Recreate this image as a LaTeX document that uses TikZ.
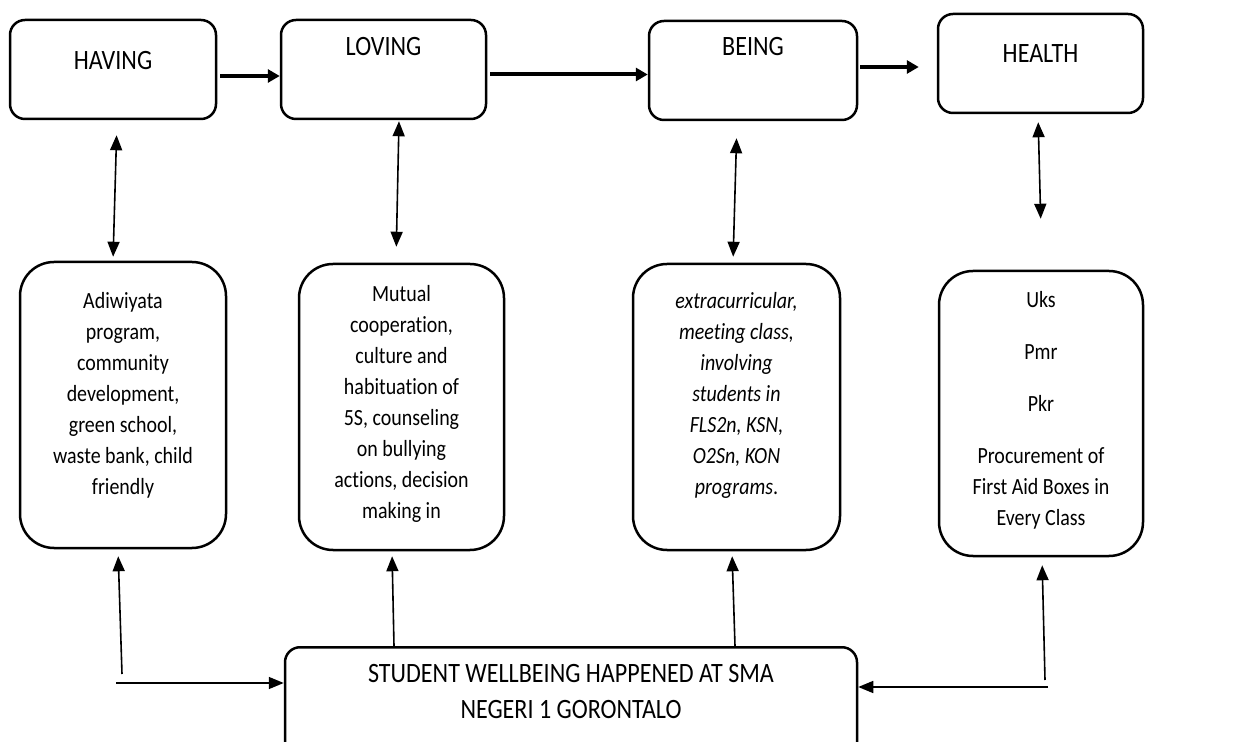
\documentclass[tikz,border=0pt]{standalone}
\usepackage{fontspec}
\setmainfont{Carlito}[FakeStretch=0.86, Ligatures=NoCommon, Contextuals=NoAlternate]
\usepackage{tikz}
\usetikzlibrary{arrows.meta,calc}

\begin{document}
\begin{tikzpicture}[x=0.5pt, y=-0.5pt,
    topbox/.style={draw, line width=1.25pt, rounded corners=7.5pt, minimum height=49.5pt, font=\fontsize{14}{18}\selectfont},
    itembox/.style={draw, line width=1.25pt, rounded corners=17pt, minimum height=143pt, align=center, font=\fontsize{11.6}{15.5}\selectfont},
    flow/.style={line width=2pt, -{Triangle[length=6pt,width=6.5pt]}},
    link/.style={line width=0.8pt, -{Triangle[length=7.5pt,width=6pt]}},
    both/.style={line width=0.8pt, {Triangle[length=7.5pt,width=6pt]}-{Triangle[length=7.5pt,width=6pt]}}]
\useasboundingbox (0,0) rectangle (1236,742);
\clip (0,0) rectangle (1236,742);

% Top row
\node[topbox, minimum width=103pt, text depth=9.5pt] (having) at (113,69.5) {HAVING};
\node[topbox, minimum width=102.5pt, text depth=23.5pt] (loving) at (383.5,69.5) {LOVING};
\node[topbox, minimum width=104pt, text depth=24.5pt] (being) at (753,70.5) {BEING};
\node[topbox, minimum width=102.5pt, text depth=9.5pt] (health) at (1040.5,63.5) {HEALTH};

\draw[flow, shorten <=1.5pt] ([yshift=-3.25pt]having.east) -- ([yshift=-3.25pt]loving.west);
\draw[flow, shorten <=1.5pt] ([yshift=-2.5pt]loving.east) -- ([yshift=-2pt]being.west);
\draw[flow, shorten <=1pt, shorten >=9pt] ([yshift=1.75pt]being.east) -- ([yshift=-1.75pt]health.west);

% Programs
\node[itembox, minimum width=103pt, text depth=12pt] (adi) at (123,405)
    {Adiwiyata\\program,\\community\\development,\\green school,\\waste bank, child\\friendly};
\node[itembox, minimum width=102.5pt, text depth=5.5pt] (mutual) at (401.5,407)
    {Mutual\\cooperation,\\culture and\\habituation of\\5S, counseling\\on bullying\\actions, decision\\making in};
\node[itembox, minimum width=103.5pt, text depth=13.5pt, font=\fontsize{11.6}{15.5}\selectfont\itshape] (extra) at (736.5,407)
    {extracurricular,\\meeting class,\\involving\\students in\\FLS2n, KSN,\\O2Sn, KON\\programs\upshape.};
\node[itembox, minimum width=102pt, minimum height=142.5pt, text depth=5pt] (uks) at (1041,413.5)
    {Uks\\[10.5pt]Pmr\\[10.5pt]Pkr\\[10.5pt]Procurement of\\First Aid Boxes in\\Every Class};

\draw[both, shorten <=7.5pt, shorten >=2pt] ([xshift=2pt]having.south) -- ([xshift=-5pt]adi.north);
\draw[both, shorten <=0.5pt, shorten >=8pt] ([xshift=7.75pt]loving.south) -- ([xshift=-2.75pt]mutual.north);
\draw[both, shorten <=8.5pt, shorten >=3pt] ([xshift=-8pt]being.south) -- ([xshift=-1.75pt]extra.north);
\draw[both, shorten <=4pt, shorten >=25.5pt] ([xshift=-1.25pt]health.south) -- ([xshift=0.5pt]uks.north);

% Student wellbeing
\node[draw, line width=1.25pt, rounded corners=7.5pt, anchor=north, minimum width=286pt, inner ysep=8.5pt,
    align=center, text depth=40pt, font=\fontsize{14}{18}\selectfont] (main) at (571,646)
    {STUDENT WELLBEING HAPPENED AT SMA\\NEGERI 1 GORONTALO};

\draw[link, shorten >=2.5pt] ([xshift=-88.5pt]main.north) -- ([xshift=-4.75pt]mutual.south);
\draw[link, shorten >=2.5pt] ([xshift=82pt]main.north) -- ([xshift=-2.25pt]extra.south);

\coordinate (lfoot) at (122,674);
\coordinate (lstart) at (116,683);
\draw[link, shorten >=3.5pt] (lfoot) -- ([xshift=-2.5pt]adi.south);
\draw[link] (lstart) -- (lstart -| main.west);

\coordinate (rfoot) at (1045,680);
\coordinate (rstart) at (1048,687);
\draw[link, shorten >=4pt] (rfoot) -- ([xshift=0.5pt]uks.south);
\draw[link] (rstart) -- (rstart -| main.east);
\end{tikzpicture}
\end{document}
